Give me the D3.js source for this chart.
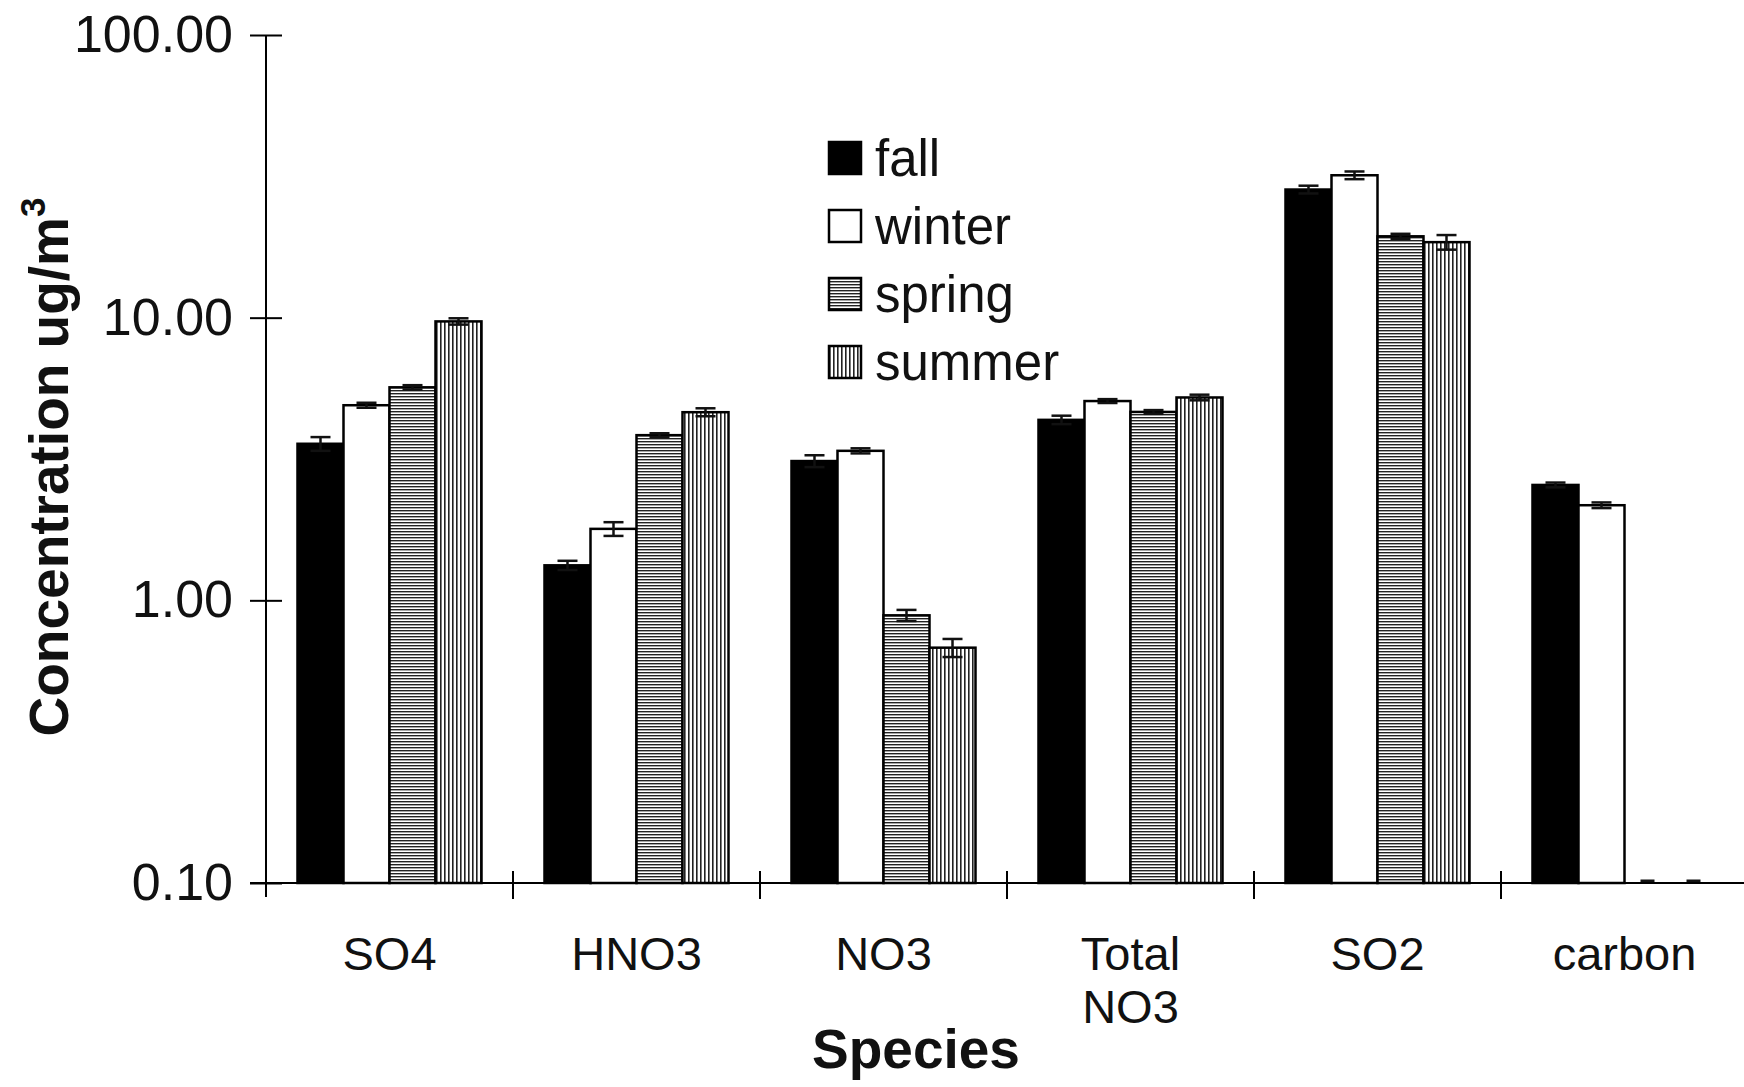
<!DOCTYPE html>
<html>
<head>
<meta charset="utf-8">
<script src="https://cdn.jsdelivr.net/npm/d3@7"></script>
<style>
  html, body { margin: 0; padding: 0; background: #fff; }
  svg { display: block; font-family: "Liberation Sans", Arial, Helvetica, sans-serif; }
</style>
</head>
<body>
<svg id="chart" width="1744" height="1087"></svg>
<script>
// Seasonal mean concentrations (ug/m3) per species, with error bars
const categories = ["SO4", "HNO3", "NO3", "Total NO3", "SO2", "carbon"];
const seasons = ["fall", "winter", "spring", "summer"];

const fall   = [3.58, 1.33, 3.11, 4.35, 28.4, 2.56];
const winter = [4.90, 1.79, 3.38, 5.07, 31.9, 2.17];
const spring = [5.67, 3.84, 0.885, 4.64, 19.4, 0];
const summer = [9.70, 4.63, 0.68, 5.22, 18.5, 0];

const fallErr   = [0.20, 0.05, 0.15, 0.15, 0.9, 0.05];
const winterErr = [0.10, 0.10, 0.07, 0.08, 1.0, 0.05];
const springErr = [0.10, 0.06, 0.04, 0.07, 0.4, 0];
const summerErr = [0.25, 0.15, 0.05, 0.12, 1.1, 0];

const yTicks = [100, 10, 1, 0.1];

const seriesValues = [fall, winter, spring, summer];
const seriesErrors = [fallErr, winterErr, springErr, summerErr];

const svg = d3.select("#chart");
const W = 1744, H = 1087;
svg.append("rect").attr("width", W).attr("height", H).attr("fill", "#fff");

// Fill patterns: solid black, white, horizontal hatch, vertical hatch
const defs = svg.append("defs");
const hp = defs.append("pattern").attr("id", "hatchH")
  .attr("patternUnits", "userSpaceOnUse").attr("width", 8).attr("height", 3);
hp.append("rect").attr("width", 8).attr("height", 3).attr("fill", "#fff");
hp.append("rect").attr("y", 0).attr("width", 8).attr("height", 1.4).attr("fill", "#222");
const vp = defs.append("pattern").attr("id", "hatchV")
  .attr("patternUnits", "userSpaceOnUse").attr("width", 4).attr("height", 8);
vp.append("rect").attr("width", 4).attr("height", 8).attr("fill", "#fff");
vp.append("rect").attr("x", 0).attr("width", 1.6).attr("height", 8).attr("fill", "#222");

const fills = { fall: "#000", winter: "#fff", spring: "url(#hatchH)", summer: "url(#hatchV)" };

// Scales
const x0Start = 266, bandW = 247;
const x0 = d3.scaleBand().domain(categories)
  .range([x0Start, x0Start + bandW * categories.length]).padding(0);
const groupFrac = 0.745;
const x1 = d3.scaleBand().domain(seasons)
  .range([0, x0.bandwidth() * groupFrac]).padding(0);
const groupOffset = (x0.bandwidth() * (1 - groupFrac)) / 2;

const y = d3.scaleLog().domain([0.1, 100]).range([883, 35]);
const yv = v => (v > 0.1 ? y(v) : y(0.1));

// Bars
const data = [];
categories.forEach((c, i) => {
  seasons.forEach((s, j) => {
    data.push({ cat: c, season: s, v: seriesValues[j][i], e: seriesErrors[j][i] });
  });
});

const barsG = svg.append("g");
barsG.selectAll("rect.bar")
  .data(data.filter(d => d.v > 0.1))
  .join("rect")
  .attr("class", "bar")
  .attr("x", d => x0(d.cat) + groupOffset + x1(d.season))
  .attr("y", d => y(d.v))
  .attr("width", x1.bandwidth())
  .attr("height", d => y(0.1) - y(d.v))
  .attr("fill", d => fills[d.season])
  .attr("stroke", "#000")
  .attr("stroke-width", 2.5);

// Error bars (zero-valued bars leave only a cap stub on the floor)
const capW = 20;
const errG = svg.append("g").attr("stroke", "#111").attr("stroke-width", 2.5);
data.forEach(d => {
  const cx = x0(d.cat) + groupOffset + x1(d.season) + x1.bandwidth() / 2;
  const top = yv(d.v + d.e);
  const bot = yv(Math.max(d.v - d.e, 0));
  if (d.v <= 0.1) {
    errG.append("line").attr("x1", cx - 7).attr("x2", cx + 7)
      .attr("y1", top - 2).attr("y2", top - 2).attr("stroke-width", 3);
    return;
  }
  errG.append("line").attr("x1", cx).attr("x2", cx).attr("y1", top).attr("y2", bot);
  errG.append("line").attr("x1", cx - capW / 2).attr("x2", cx + capW / 2).attr("y1", top).attr("y2", top);
  errG.append("line").attr("x1", cx - capW / 2).attr("x2", cx + capW / 2).attr("y1", bot).attr("y2", bot);
});

// Y axis
const yAxis = svg.append("g")
  .attr("transform", `translate(${x0Start},0)`)
  .call(d3.axisLeft(y).tickValues(yTicks).tickFormat(d3.format(".2f")).tickSize(16).tickSizeOuter(0));
yAxis.select(".domain").remove();
yAxis.selectAll(".tick line").attr("x1", 16).attr("x2", -16).attr("stroke", "#000").attr("stroke-width", 2);
yAxis.selectAll(".tick text")
  .attr("x", -33)
  .attr("font-size", 52)
  .attr("font-family", "'Liberation Sans', Arial, sans-serif")
  .attr("fill", "#111");
svg.append("line")
  .attr("x1", x0Start).attr("x2", x0Start)
  .attr("y1", y(100)).attr("y2", y(0.1) + 14)
  .attr("stroke", "#000").attr("stroke-width", 2);

// X axis baseline and category boundary ticks
svg.append("line")
  .attr("x1", x0Start - 16).attr("x2", W)
  .attr("y1", y(0.1)).attr("y2", y(0.1))
  .attr("stroke", "#000").attr("stroke-width", 2);
svg.append("g").selectAll("line")
  .data(categories.slice(1))
  .join("line")
  .attr("x1", d => x0(d)).attr("x2", d => x0(d))
  .attr("y1", y(0.1) - 12).attr("y2", y(0.1) + 16)
  .attr("stroke", "#000").attr("stroke-width", 2);

// Category labels (multi-word names wrap)
const labG = svg.append("g").attr("font-size", 47).attr("fill", "#111").attr("text-anchor", "middle");
categories.forEach(c => {
  const words = c.split(" ");
  const t = labG.append("text")
    .attr("x", x0(c) + x0.bandwidth() / 2)
    .attr("y", 970);
  words.forEach((w, k) => {
    t.append("tspan").attr("x", x0(c) + x0.bandwidth() / 2).attr("dy", k === 0 ? 0 : 53).text(w);
  });
});

// Axis titles
svg.append("text")
  .attr("x", 916).attr("y", 1068)
  .attr("text-anchor", "middle")
  .attr("font-size", 55).attr("font-weight", "bold").attr("fill", "#111")
  .text("Species");

const yt = svg.append("text")
  .attr("transform", "translate(68,467) rotate(-90)")
  .attr("text-anchor", "middle")
  .attr("font-size", 55).attr("font-weight", "bold").attr("fill", "#111");
yt.append("tspan").text("Concentration ug/m");
yt.append("tspan").attr("dy", -23).attr("font-size", 35).text("3");

// Legend
const legend = svg.append("g").attr("transform", "translate(829,142)");
seasons.forEach((s, i) => {
  const g = legend.append("g").attr("transform", `translate(0,${i * 68})`);
  g.append("rect").attr("width", 32).attr("height", 32)
    .attr("fill", fills[s]).attr("stroke", "#000").attr("stroke-width", 2.5);
  g.append("text").attr("x", 46).attr("y", 16).attr("dy", "0.36em")
    .attr("font-size", 51).attr("fill", "#111").text(s);
});
</script>
</body>
</html>
